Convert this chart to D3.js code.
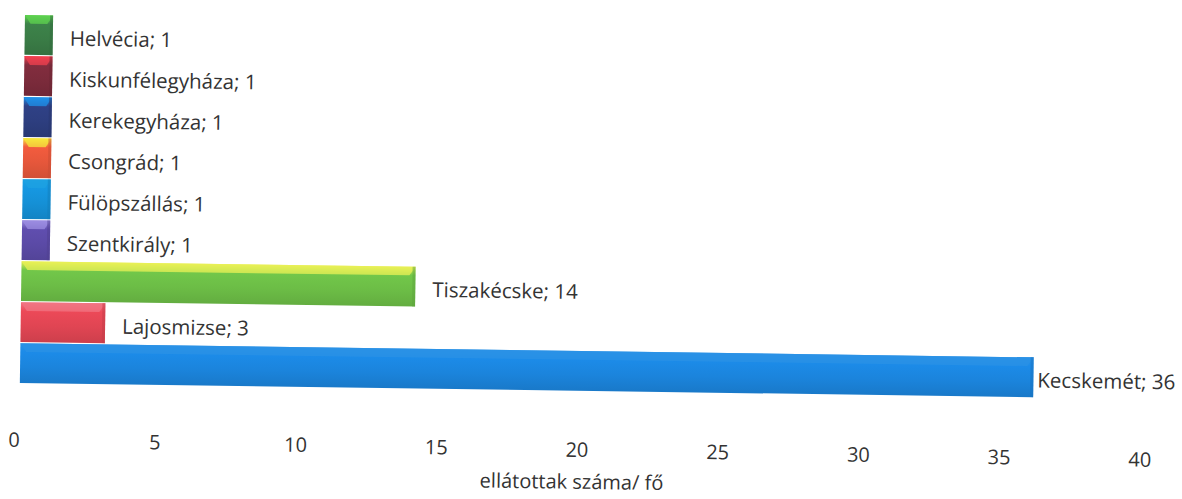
<!DOCTYPE html>
<html>
<head>
<meta charset="utf-8">
<script src="https://cdn.jsdelivr.net/npm/d3@7"></script>
<style>
  html, body { margin: 0; padding: 0; background: #fff; }
  svg { display: block; }
  text { font-family: "Open Sans", "Noto Sans", sans-serif; fill: #333; }
</style>
</head>
<body>
<div id="chart"></div>
<script>
// data
const categories = [
  'Helvécia', 'Kiskunfélegyháza', 'Kerekegyháza', 'Csongrád',
  'Fülöpszállás', 'Szentkirály', 'Tiszakécske', 'Lajosmizse', 'Kecskemét',
];
const values = [1, 1, 1, 1, 1, 1, 14, 3, 36];
const ticks = [0, 5, 10, 15, 20, 25, 30, 35, 40];
const axisTitle = 'ellátottak száma/ fő';

// styles (base colour, top highlight)
const baseColors = ['#3a7c46', '#7b2b3b', '#2d3e7f', '#e6573b', '#1590d6', '#5b4aa6', '#6cbd46', '#e04553', '#1b84dc'];
const topColors  = ['#5ed24f', '#f2404f', '#1e90ea', '#f6e83c', '#1ea2e2', '#9c8de2', '#e9f055', '#f07583', '#2b92e6'];

const width = 1182;
const height = 499;
const margin = { top: 15, left: 21 };

const svg = d3.select('#chart')
  .append('svg')
  .attr('width', width)
  .attr('height', height)
  .attr('viewBox', `0 0 ${width} ${height}`);

const defs = svg.append('defs');

// the scan is slightly tilted
const g = svg.append('g')
  .attr('transform', 'rotate(0.8, 20, 300)');

const x = d3.scaleLinear()
  .domain([0, 40])
  .range([margin.left, 1147]);

const y = d3.scaleBand()
  .domain(categories)
  .range([margin.top, 383])
  .paddingInner(0.03);

const rows = categories.map((c, i) => ({ name: c, value: values[i], i }));

rows.forEach(d => {
  const grad = defs.append('linearGradient')
    .attr('id', `grad${d.i}`)
    .attr('x1', 0).attr('y1', 0)
    .attr('x2', 0).attr('y2', 1);
  const base = d3.color(baseColors[d.i]);
  grad.append('stop').attr('offset', '0%').attr('stop-color', topColors[d.i]);
  grad.append('stop').attr('offset', '22%').attr('stop-color', base.brighter(0.15));
  grad.append('stop').attr('offset', '60%').attr('stop-color', base);
  grad.append('stop').attr('offset', '100%').attr('stop-color', base.darker(0.25));
});

const bars = g.append('g').selectAll('g')
  .data(rows)
  .join('g');

bars.append('rect')
  .attr('x', x(0))
  .attr('y', d => y(d.name))
  .attr('width', d => x(d.value) - x(0))
  .attr('height', y.bandwidth())
  .attr('fill', d => `url(#grad${d.i})`);

// bevel highlight on top of each bar
bars.append('path')
  .attr('d', d => {
    const x0 = x(0), x1 = x(d.value), y0 = y(d.name);
    const inset = Math.min(6, (x1 - x0) * 0.2);
    const h = y.bandwidth() * 0.22;
    return `M${x0},${y0}L${x1},${y0}L${x1 - inset},${y0 + h}L${x0 + inset},${y0 + h}Z`;
  })
  .attr('fill', d => topColors[d.i])
  .attr('opacity', 0.75);

// side shading
bars.append('rect')
  .attr('x', d => x(d.value) - 3)
  .attr('y', d => y(d.name))
  .attr('width', 3)
  .attr('height', y.bandwidth())
  .attr('fill', d => d3.color(baseColors[d.i]).darker(0.4))
  .attr('opacity', 0.5);

// value labels
bars.append('text')
  .attr('y', d => y(d.name) + y.bandwidth() / 2 + 3)
  .attr('dy', '0.35em')
  .attr('font-size', 20.5)
  .text(d => `${d.name}; ${d.value}`)
  .each(function (d) {
    const w = this.getComputedTextLength();
    const px = Math.max(x(d.value) + 4, Math.min(x(d.value) + 17, width - w - 10));
    d3.select(this).attr('x', px);
  });

// tick labels (no axis line in the original)
g.append('g')
  .selectAll('text')
  .data(ticks)
  .join('text')
  .attr('x', d => x(d) - 5)
  .attr('y', d => 440 + d * 0.1)
  .attr('dy', '0.35em')
  .attr('text-anchor', 'middle')
  .attr('font-size', 20)
  .text(d => d);

g.append('text')
  .attr('x', x(20) - 10)
  .attr('y', 474)
  .attr('dy', '0.35em')
  .attr('text-anchor', 'middle')
  .attr('font-size', 20)
  .text(axisTitle);
</script>
</body>
</html>
